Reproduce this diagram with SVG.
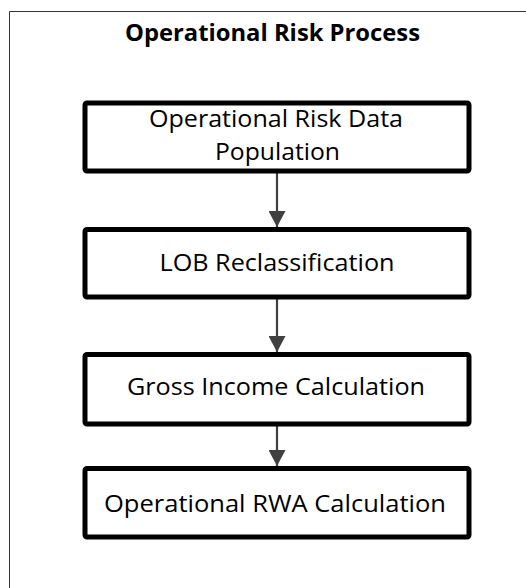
<svg xmlns="http://www.w3.org/2000/svg" width="526" height="588" viewBox="0 0 526 588">
<defs>
<style>
.frame{fill:none;stroke:#333;stroke-width:1}
.box{fill:#fff;stroke:#000;stroke-width:5}
.lbl{font-family:"Open Sans","Noto Sans",sans-serif;font-size:24px;fill:#000;text-anchor:middle}
.title{font-family:"Open Sans","Noto Sans",sans-serif;font-size:23px;font-weight:bold;fill:#000;text-anchor:middle}
.conn{stroke:#404040;stroke-width:2.2;fill:none}
</style>
<marker id="ah" markerUnits="userSpaceOnUse" markerWidth="18" markerHeight="17" refX="16" refY="8.5" orient="auto">
<path d="M0,0 L16,8.5 L0,17 Z" fill="#404040"/>
</marker>
</defs>
<rect width="526" height="588" fill="#fff"/>
<path class="frame" d="M9.5,600 V11.5 H540"/>
<text class="title" x="272.5" y="40.5" textLength="295" lengthAdjust="spacingAndGlyphs">Operational Risk Process</text>
<g id="connectors">
<line class="conn" x1="277" y1="173" x2="277" y2="227" marker-end="url(#ah)"/>
<line class="conn" x1="277" y1="299" x2="277" y2="352" marker-end="url(#ah)"/>
<line class="conn" x1="277" y1="426" x2="277" y2="466" marker-end="url(#ah)"/>
</g>
<g id="n1">
<rect class="box" x="85" y="103" width="384" height="68" rx="2"/>
<text class="lbl" x="276" y="127" textLength="254" lengthAdjust="spacingAndGlyphs">Operational Risk Data</text>
<text class="lbl" x="277.5" y="160" textLength="125" lengthAdjust="spacingAndGlyphs">Population</text>
</g>
<g id="n2">
<rect class="box" x="85" y="229.5" width="384" height="67.5" rx="2"/>
<text class="lbl" x="277" y="270.5" textLength="235" lengthAdjust="spacingAndGlyphs">LOB Reclassification</text>
</g>
<g id="n3">
<rect class="box" x="85" y="354.5" width="384" height="69.5" rx="2"/>
<text class="lbl" x="276" y="395" textLength="298" lengthAdjust="spacingAndGlyphs">Gross Income Calculation</text>
</g>
<g id="n4">
<rect class="box" x="85" y="468.5" width="384" height="68.5" rx="2"/>
<text class="lbl" x="275" y="512" textLength="342" lengthAdjust="spacingAndGlyphs">Operational RWA Calculation</text>
</g>
</svg>
